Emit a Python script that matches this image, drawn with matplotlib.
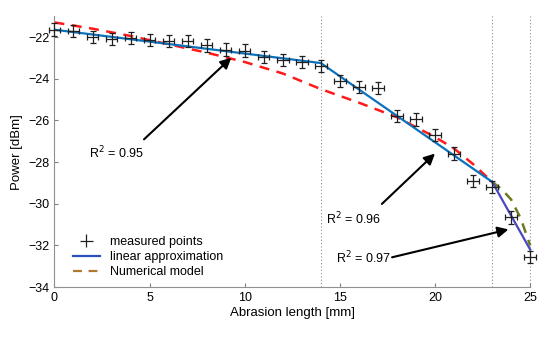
import numpy as np
import matplotlib.pyplot as plt
from matplotlib.lines import Line2D

plt.rcParams['font.family'] = ['Liberation Sans', 'DejaVu Sans']

# measured points
x_meas = np.arange(0, 26)
p_meas = [-21.65, -21.7, -22.0, -22.1, -22.05, -22.15, -22.2, -22.2, -22.4, -22.6,
          -22.65, -22.95, -23.1, -23.2, -23.4, -24.1, -24.4, -24.45, -25.8, -25.95,
          -26.7, -27.6, -28.9, -29.2, -30.65, -32.55]
x_err = 0.3
p_err = 0.3

# linear approximation (piecewise)
lin_x = [0, 14, 23]
lin_p = [-21.65, -23.25, -28.95]
lin2_x = [23, 25]
lin2_p = [-28.95, -32.2]

# numerical model
num_x = [0, 2, 4, 6, 8, 10, 12, 14, 16, 18, 20, 21, 22, 23]
num_p = [-21.3, -21.6, -21.95, -22.35, -22.75, -23.2, -23.75, -24.5, -25.15, -25.85,
         -26.8, -27.35, -28.1, -28.95]
num2_x = [23, 23.5, 24, 24.5, 25]
num2_p = [-28.95, -29.3, -29.8, -30.7, -32.0]

fig, ax = plt.subplots(figsize=(5.5, 3.37), dpi=100)
fig.subplots_adjust(left=0.099, right=0.964, bottom=0.148, top=0.952)

for xv in [14, 23, 25]:
    ax.axvline(xv, color='#909090', ls=(0, (1, 2)), lw=0.8, zorder=1, clip_on=False)

ax.plot(num_x, num_p, color='#ff1a1a', ls=(0, (4, 3)), lw=1.8, zorder=2)
ax.plot(num2_x, num2_p, color='#6b7a1f', ls=(0, (4, 3)), lw=1.8, zorder=2, clip_on=False)
ax.plot(lin_x, lin_p, color='#0a72bd', lw=1.6, zorder=3)
ax.plot(lin2_x, lin2_p, color='#4848c0', lw=1.6, zorder=3, clip_on=False)
eb = ax.errorbar(x_meas, p_meas, xerr=x_err, yerr=p_err, fmt='none', ecolor='#202020',
                 elinewidth=0.9, capsize=2.5, capthick=0.9, zorder=4)
for art in eb.lines[1] + eb.lines[2]:
    art.set_clip_on(False)

arrow = dict(arrowstyle='-|>', color='black', lw=1.5, mutation_scale=16)
ax.annotate('', xy=(9.4, -22.9), xytext=(4.6, -27.0), arrowprops=arrow)
ax.annotate('', xy=(20.1, -27.5), xytext=(17.1, -30.1), arrowprops=arrow)
ax.annotate('', xy=(24.0, -31.2), xytext=(17.6, -32.6), arrowprops=arrow)
ax.text(1.8, -27.55, 'R$^2$ = 0.95', fontsize=9, va='center', ha='left')
ax.text(14.25, -30.75, 'R$^2$ = 0.96', fontsize=9, va='center', ha='left')
ax.text(14.8, -32.6, 'R$^2$ = 0.97', fontsize=9, va='center', ha='left')

ax.set_xlim(0, 25)
ax.set_ylim(-34, -21)
ax.set_xticks([0, 5, 10, 15, 20, 25])
ax.set_yticks([-34, -32, -30, -28, -26, -24, -22])
ax.set_xlabel('Abrasion length [mm]', fontsize=9.5, labelpad=2)
ax.set_ylabel('Power [dBm]', fontsize=9.5, labelpad=4)
ax.tick_params(direction='in', length=3, color='#808080', labelsize=9)
for s in ['top', 'right']:
    ax.spines[s].set_visible(False)
for s in ['left', 'bottom']:
    ax.spines[s].set_color('#909090')

h_meas = ax.errorbar([], [], xerr=[], yerr=[], fmt='none', ecolor='#202020',
                     elinewidth=0.9, capsize=2.5)
h_lin = Line2D([], [], color='#2a50c0', lw=1.6)
h_num = Line2D([], [], color='#b07830', ls=(0, (4, 3)), lw=1.6)
ax.legend([h_meas, h_lin, h_num], ['measured points', 'linear approximation', 'Numerical model'],
          loc='lower left', bbox_to_anchor=(0.02, 0.0), frameon=False, fontsize=9,
          handlelength=2.2, labelspacing=0.25, borderaxespad=0.3)

fig.savefig('out.png', dpi=100)
